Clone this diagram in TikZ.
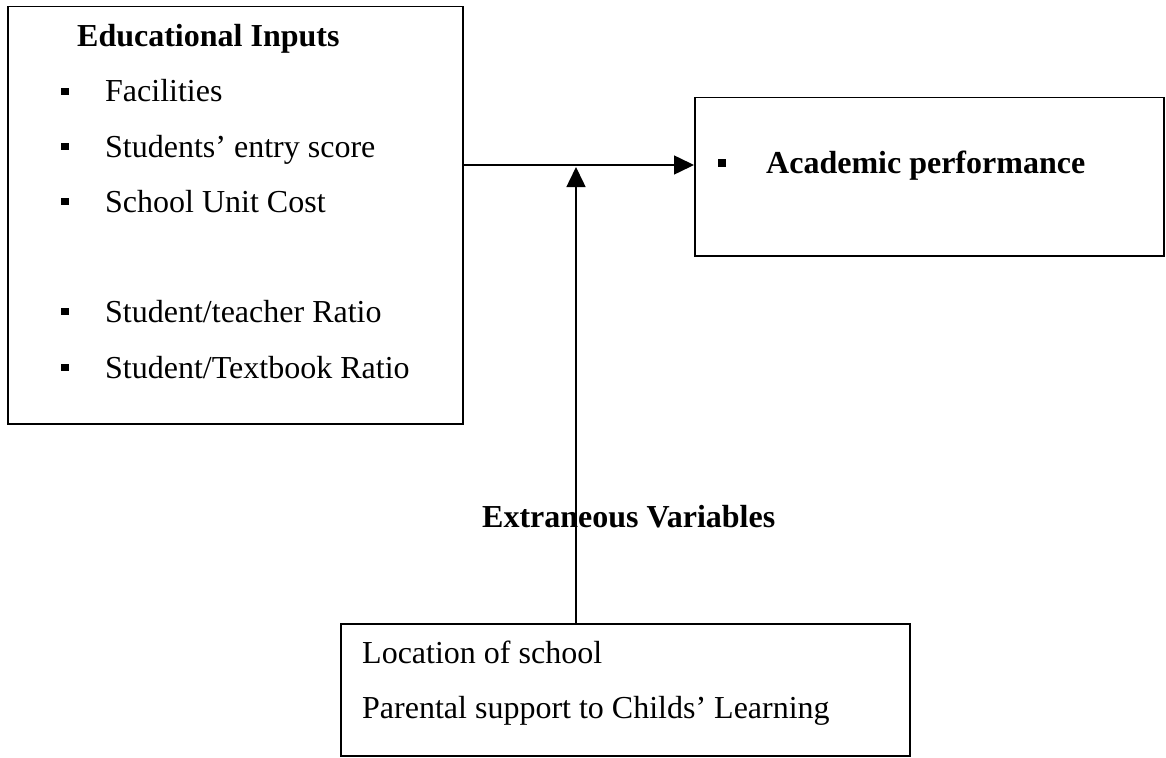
\documentclass[tikz,border=0pt]{standalone}
\usepackage{fontspec}
\setmainfont{Liberation Serif}
\usetikzlibrary{arrows.meta}

\begin{document}
\begin{tikzpicture}[x=1pt, y=-1pt,
  box/.style={draw, line width=1.5pt, inner sep=0pt, anchor=north west},
  txt/.style={anchor=base west, inner sep=0pt, font=\fontsize{32}{38}\selectfont},
  headtxt/.style={txt, font=\fontsize{32}{38}\selectfont\bfseries},
  bul/.style={fill, inner sep=0pt, minimum size=7.5pt},
  arr/.style={-{Triangle[length=20pt, width=19pt]}, line width=1.5pt}
]
\useasboundingbox (0,0) rectangle (1166,757);

% the three boxes
\node[box, minimum width=455pt, minimum height=417pt] (inputs) at (7,6) {};
\node[box, minimum width=469pt, minimum height=158pt] (perf) at (694,97) {};
\node[box, minimum width=569pt, minimum height=132pt] (extra) at (340,623) {};

% educational inputs
\node[headtxt] (inhead) at (77,47) {Educational Inputs};
\node[bul] (b1) at (65,91.5) {};
\node[txt] (i1) at (105,102) {Facilities};
\node[bul] (b2) at (65,146.5) {};
\node[txt] (i2) at (105,157) {Students’ entry score};
\node[bul] (b3) at (65,201.5) {};
\node[txt] (i3) at (105,212) {School Unit Cost};
\node[bul] (b4) at (65,311.5) {};
\node[txt] (i4) at (105,322) {Student/teacher Ratio};
\node[bul] (b5) at (65,367.5) {};
\node[txt] (i5) at (105,378) {Student/Textbook Ratio};

% outcome
\node[bul] (b6) at (722,163) {};
\node[headtxt] (o1) at (766,173) {Academic performance};

% extraneous variables
\node[headtxt] (exhead) at (482,527) {Extraneous Variables};
\node[txt] (e1) at (362,663) {Location of school};
\node[txt] (e2) at (362,718) {Parental support to Childs’ Learning};

\coordinate (meet) at (576,165);
\coordinate (tip) at (576,167);
\draw[arr] (inputs.east |- meet) -- (perf.west |- meet);
\draw[arr] (extra.north -| tip) -- (tip);
\end{tikzpicture}
\end{document}
